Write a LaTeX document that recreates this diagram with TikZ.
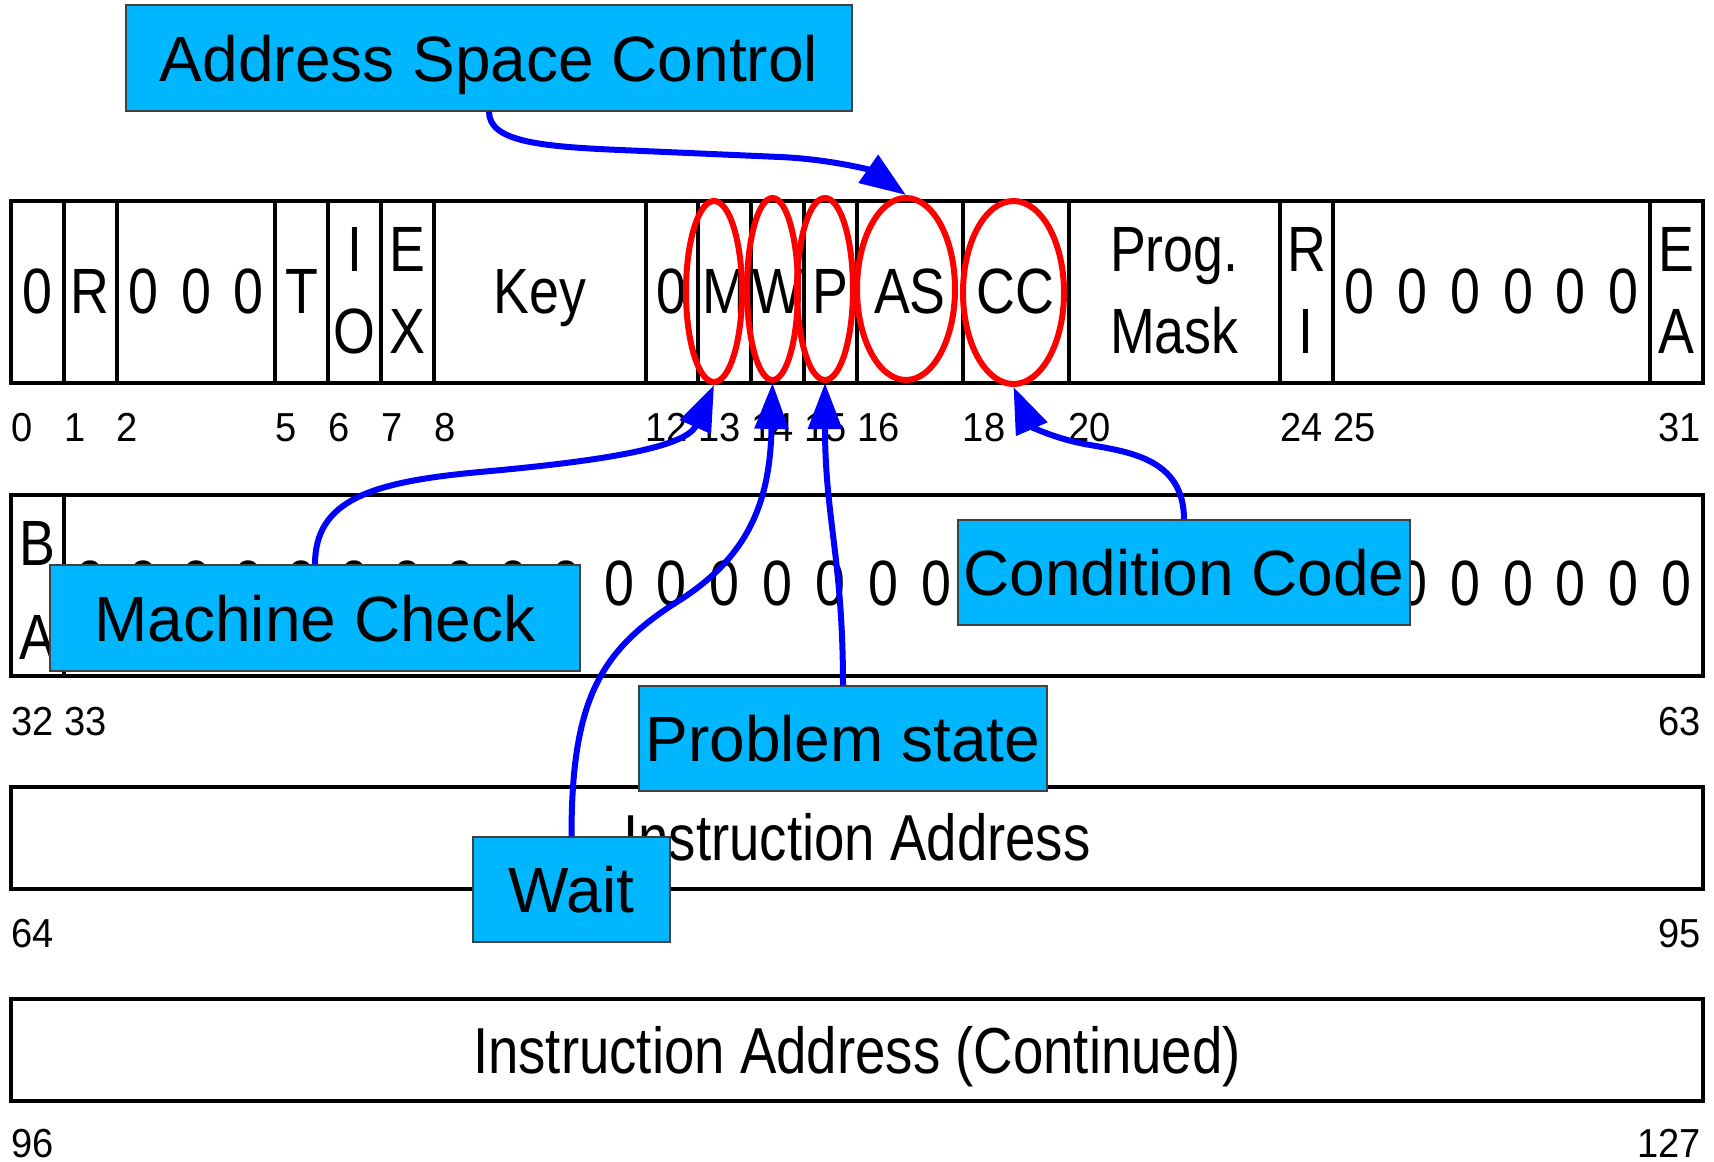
\documentclass[tikz,border=0pt]{standalone}
\usepackage{fontspec}
\setmainfont{Liberation Sans}
\newfontfamily\rowf[FakeStretch=0.84]{Liberation Sans}
\newfontfamily\labf[FakeStretch=0.94]{Liberation Sans}
\usetikzlibrary{shapes.geometric,arrows.meta}
\definecolor{callblue}{RGB}{0,183,255}
\definecolor{arrblue}{RGB}{0,0,255}
\definecolor{ellred}{RGB}{255,0,0}
\begin{document}
\begin{tikzpicture}[x=1pt,y=-1pt,
  rowbox/.style={draw=black, line width=4.5pt},
  divider/.style={draw=black, line width=4pt},
  big/.style={font=\rowf\fontsize{64}{70}\selectfont, inner sep=0pt, anchor=base},
  wide/.style={font=\rowf\fontsize{65}{72}\selectfont, inner sep=0pt, anchor=base},
  lab/.style={font=\labf\fontsize{40.5}{44}\selectfont, inner sep=0pt, anchor=base west},
  labr/.style={font=\labf\fontsize{40.5}{44}\selectfont, inner sep=0pt, anchor=base east},
  ring/.style={ellipse, draw=ellred, line width=6pt, inner sep=0pt},
  callout/.style={draw=black!75, line width=1.2pt, fill=callblue, font=\fontsize{64}{70}\selectfont, text height=46pt, text depth=0pt, inner sep=0pt, align=center},
  pointer/.style={draw=arrblue, line width=6pt, -{Triangle[length=46pt,width=33pt]}}
]
\useasboundingbox (0,0) rectangle (1714,1162);
\fill[white] (0,0) rectangle (1714,1162);

% ---------- row 1 (bits 0-31)
\draw[rowbox] (11,201) rectangle (1703,383);
\foreach \b in {1,2,5,6,7,8,12,13,14,15,16,18,20,24,25,31}
  \draw[divider] ({11+52.875*\b},201) -- ({11+52.875*\b},383);
\foreach \p/\t [count=\i] in {0.5/0,1.5/R,2.5/0,3.5/0,4.5/0,5.5/T,10/Key,12.5/0,13.5/M,14.5/W,15.5/P,17/AS,19/CC,25.5/0,26.5/0,27.5/0,28.5/0,29.5/0,30.5/0}
  \node[big] (ra\i) at ({11+52.875*\p},313) {\t};
\foreach \p/\t/\u [count=\i] in {6.5/I/O,7.5/E/X,22/Prog./Mask,24.5/R/I,31.5/E/A}{
  \node[big] (rt\i) at ({11+52.875*\p},271) {\t};
  \node[big] (rb\i) at ({11+52.875*\p},353) {\u};
}
\foreach \b [count=\i] in {0,1,2,5,6,7,8,12,13,14,15,16,18,20,24,25}
  \node[lab] (la\i) at ({11+52.875*\b},441) {\b};
\node[labr] (la31) at (1701,441) {31};

% ---------- row 2 (bits 32-63)
\draw[rowbox] (11,495) rectangle (1703,676);
\draw[divider] ({11+52.875},495) -- ({11+52.875},676);
\node[big] (rB) at ({11+52.875*0.5},565) {B};
\node[big] (rA) at ({11+52.875*0.5},659) {A};
\foreach \p in {1,...,31}
  \node[big] (rz\p) at ({11+52.875*(\p+0.5)},605) {0};
\node[lab] (l32) at (11,735) {32};
\node[lab] (l33) at ({11+52.875},735) {33};
\node[labr] (l63) at (1701,735) {63};

% ---------- row 3 (bits 64-95)
\draw[rowbox] (11,787) rectangle (1703,889);
\node[wide] (ia) at (857,860) {Instruction Address};
\node[lab] (l64) at (11,947) {64};
\node[labr] (l95) at (1701,947) {95};

% ---------- row 4 (bits 96-127)
\draw[rowbox] (11,999) rectangle (1703,1101);
\node[wide] (iac) at (857,1073) {Instruction Address (Continued)};
\node[lab] (l96) at (11,1157) {96};
\node[labr] (l127) at (1701,1157) {127};

% ---------- red ellipses
\node[ring, minimum width=56pt, minimum height=181pt] (eM) at (714,291.5) {};
\node[ring, minimum width=51pt, minimum height=182pt] (eW) at (772.5,289) {};
\node[ring, minimum width=56pt, minimum height=182pt] (eP) at (825,289) {};
\node[ring, minimum width=98pt, minimum height=182pt] (eAS) at (906,289) {};
\node[ring, minimum width=101pt, minimum height=183pt] (eCC) at (1013.5,292.5) {};

% ---------- callout boxes
\node[callout, minimum width=726pt, minimum height=106pt] (asc) at (489,58) {Address Space Control};
\node[callout, minimum width=530pt, minimum height=106pt] (mc) at (315,618) {Machine Check};
\node[callout, minimum width=452pt, minimum height=105pt] (cc) at (1184,572.5) {Condition Code};
\node[callout, minimum width=408pt, minimum height=105pt] (ps) at (843,738.5) {Problem state};
\node[callout, minimum width=197pt, minimum height=105pt] (wt) at (571.5,889.5) {Wait};

% ---------- arrows
\draw[pointer] (asc.south) .. controls +(0,30) and (540,146.5) .. (620,150)
  -- (780,157) .. controls (830,159.2) and (870,170) .. (eAS.north);
\draw[pointer] (mc.north) .. controls +(0,-64) and (370,482) .. (480,472)
  .. controls (580,463) and (685,450) .. (eM.south);
\draw[pointer] (wt.north) .. controls +(0,-137) and (600,650) .. (680,600)
  .. controls (750,555) and (770,500) .. (eW.south);
\draw[pointer] (ps.north) .. controls +(0,-126) and +(0,135) .. (eP.south);
\draw[pointer] (cc.north) .. controls +(0,-60) and (1130,452) .. (1090,445)
  .. controls (1050,438) and (1030,425) .. (eCC.south);
\end{tikzpicture}
\end{document}
